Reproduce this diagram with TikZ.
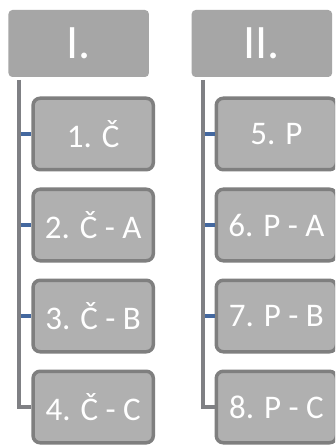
\documentclass[tikz,border=0pt]{standalone}
\usepackage{fontspec}
\setmainfont{Carlito}
\definecolor{topgray}{HTML}{A6A6A6}
\definecolor{childgray}{HTML}{B0B0B0}
\definecolor{bordergray}{HTML}{7F7F7F}
\definecolor{trunkgray}{HTML}{7F8084}
\definecolor{stubblue}{HTML}{44689F}
\begin{document}
\begin{tikzpicture}[x=1pt,y=-1pt,
  topbox/.style={fill=topgray, rounded corners=4pt, minimum width=140.5pt, minimum height=67pt,
    inner sep=0pt, text=white, font=\fontsize{48}{48}\selectfont},
  childbox/.style={fill=childgray, draw=bordergray, line width=3.5pt, rounded corners=7pt,
    minimum width=120.2pt, minimum height=71.5pt, inner sep=0pt, text=white,
    font=\fontsize{33}{33}\selectfont},
  trunk/.style={draw=trunkgray, line width=4pt},
  stub/.style={draw=stubblue, line width=4pt}]
\useasboundingbox (0,0) rectangle (335,446);
\clip (0,0) rectangle (335,446);
\fill[white] (0,0) rectangle (335,446);
% column I
\node[topbox] (t1) at (78.7,43.5) {I.};
\node[childbox] (a1) at (93.2,134) {1. Č};
\node[childbox] (a2) at (93.2,225) {2. Č - A};
\node[childbox] (a3) at (93.2,316) {3. Č - B};
\node[childbox] (a4) at (93.2,407) {4. Č - C};
\coordinate (ta) at (19.3,80);
\foreach \k in {1,2,3}{\draw[stub] (ta |- a\k.west) -- (a\k.west);}
\draw[trunk] (ta) |- (a4.west);
% column II
\node[topbox] (t2) at (261.9,43.5) {II.};
\node[childbox] (b1) at (276.4,134) {5. P};
\node[childbox] (b2) at (276.4,225) {6. P - A};
\node[childbox] (b3) at (276.4,316) {7. P - B};
\node[childbox] (b4) at (276.4,407) {8. P - C};
\coordinate (tb) at (202.5,80);
\foreach \k in {1,2,3}{\draw[stub] (tb |- b\k.west) -- (b\k.west);}
\draw[trunk] (tb) |- (b4.west);
\end{tikzpicture}
\end{document}
